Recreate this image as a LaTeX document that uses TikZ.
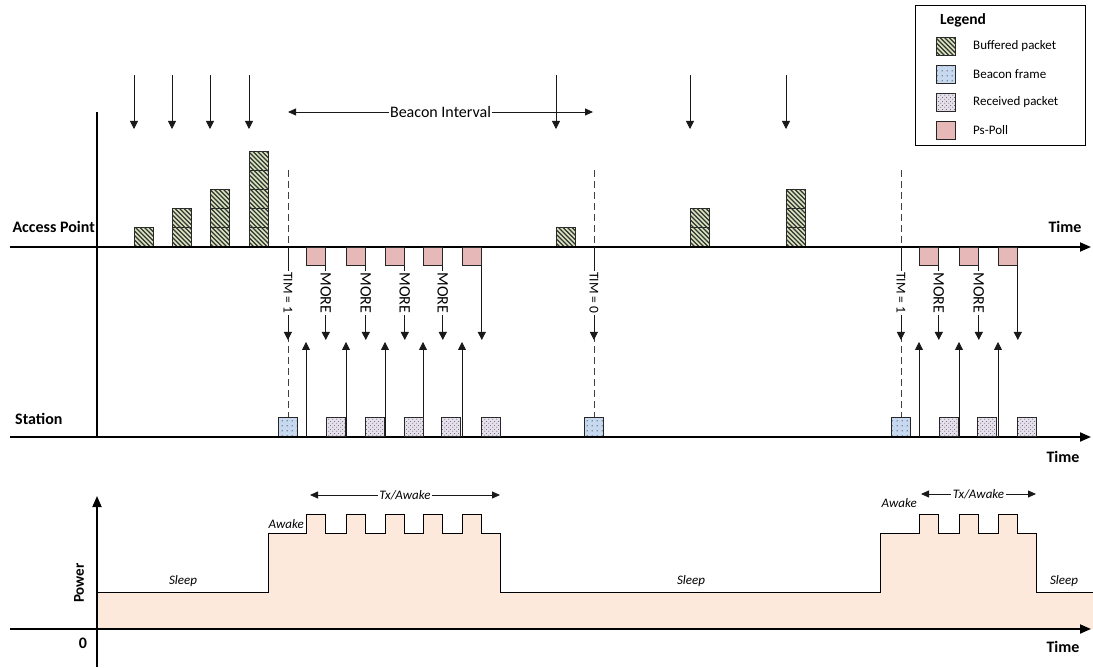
\documentclass[tikz,border=0pt]{standalone}
\usepackage{fontspec}
\setmainfont{Carlito}
\usetikzlibrary{patterns,arrows.meta}
\pgfdeclarepatternformonly{hatchnw}{\pgfqpoint{-1pt}{-1pt}}{\pgfqpoint{5.5pt}{5.5pt}}{\pgfqpoint{4.5pt}{4.5pt}}{\pgfsetlinewidth{1.1pt}\pgfpathmoveto{\pgfqpoint{-0.1pt}{4.6pt}}\pgfpathlineto{\pgfqpoint{4.6pt}{-0.1pt}}\pgfusepath{stroke}}
\pgfdeclarepatternformonly{sparsedots}{\pgfqpoint{0pt}{0pt}}{\pgfqpoint{5pt}{5pt}}{\pgfqpoint{5pt}{5pt}}{\pgfpathcircle{\pgfqpoint{2.5pt}{2.5pt}}{0.7pt}\pgfusepath{fill}}
\pgfdeclarepatternformonly{densedots}{\pgfqpoint{0pt}{0pt}}{\pgfqpoint{4pt}{4pt}}{\pgfqpoint{4pt}{4pt}}{\pgfpathcircle{\pgfqpoint{1pt}{1pt}}{0.55pt}\pgfpathcircle{\pgfqpoint{3pt}{3pt}}{0.55pt}\pgfusepath{fill}}
\definecolor{bufgreen}{HTML}{D7E4BD}
\definecolor{beaconblue}{HTML}{C6D9F1}
\definecolor{recvpurple}{HTML}{E5E0EC}
\definecolor{pspink}{HTML}{E6B9B8}
\definecolor{powerfill}{HTML}{FCE9DB}
\begin{document}
\begin{tikzpicture}[x=1pt,y=-1pt,
  axisline/.style={line width=1.8pt,-{Triangle[length=11pt,width=9pt]}},
  plainaxis/.style={line width=1.8pt},
  sig/.style={line width=0.8pt,draw=black!90,-{Triangle[length=8pt,width=8pt]}},
  dsig/.style={line width=0.8pt,draw=black!90,{Triangle[length=8pt,width=7pt]}-{Triangle[length=8pt,width=7pt]}},
  dashline/.style={line width=0.8pt,draw=black!75,dash pattern=on 7pt off 4pt},
  pkt/.style={draw=black!85,line width=0.8pt,minimum width=19pt,minimum height=19pt,inner sep=0pt,anchor=south west},
  buf/.style={pkt,fill=bufgreen,postaction={pattern=hatchnw,pattern color=black!80}},
  bcn/.style={pkt,fill=beaconblue,postaction={pattern=sparsedots,pattern color=black!75}},
  rcv/.style={pkt,fill=recvpurple,postaction={pattern=densedots,pattern color=black!75}},
  ps/.style={pkt,fill=pspink,minimum height=18pt,anchor=north west},
  swatch/.style={minimum height=18pt,anchor=north west},
  bigbold/.style={font=\fontsize{16}{19}\selectfont\bfseries,inner sep=0pt},
  onlinelbl/.style={font=\fontsize{16}{19}\selectfont,fill=white,inner sep=1.5pt,rotate=-90},
  timlbl/.style={font=\fontsize{13.5}{16}\selectfont,fill=white,inner sep=1.5pt,rotate=-90},
  itlbl/.style={font=\fontsize{13}{15}\selectfont\itshape,inner sep=0pt},
  legtxt/.style={font=\fontsize{13}{15}\selectfont,inner sep=0pt,anchor=west}]
\useasboundingbox (0,0) rectangle (1093,668);

% ---------- power plot fill ----------
\fill[powerfill] (97,629) -- (97,592) -- (268,592) -- (268,533) -- (306,533) -- (306,514) -- (325,514) -- (325,533) -- (346,533) -- (346,514) -- (365,514) -- (365,533) -- (385,533) -- (385,514) -- (404,514) -- (404,533) -- (423,533) -- (423,514) -- (442,514) -- (442,533) -- (462,533) -- (462,514) -- (481,514) -- (481,533) -- (500,533) -- (500,592) -- (880,592) -- (880,533) -- (919,533) -- (919,514) -- (938,514) -- (938,533) -- (959,533) -- (959,514) -- (978,514) -- (978,533) -- (998,533) -- (998,514) -- (1017,514) -- (1017,533) -- (1036,533) -- (1036,592) -- (1093,592) -- (1093,629) -- cycle;
\draw[line width=1pt] (97,592) -- (268,592) -- (268,533) -- (306,533) -- (306,514) -- (325,514) -- (325,533) -- (346,533) -- (346,514) -- (365,514) -- (365,533) -- (385,533) -- (385,514) -- (404,514) -- (404,533) -- (423,533) -- (423,514) -- (442,514) -- (442,533) -- (462,533) -- (462,514) -- (481,514) -- (481,533) -- (500,533) -- (500,592) -- (880,592) -- (880,533) -- (919,533) -- (919,514) -- (938,514) -- (938,533) -- (959,533) -- (959,514) -- (978,514) -- (978,533) -- (998,533) -- (998,514) -- (1017,514) -- (1017,533) -- (1036,533) -- (1036,592) -- (1093,592);

% ---------- axes ----------
\coordinate (apL) at (10,247);  \coordinate (apR) at (1091,247);
\coordinate (stL) at (10,437);  \coordinate (stR) at (1091,437);
\coordinate (vT) at (97,112);   \coordinate (vB) at (97,437);
\coordinate (pL) at (10,629);   \coordinate (pR) at (1091,629);
\coordinate (pB) at (97,667);   \coordinate (pT) at (97,496);
\coordinate (tipD) at (0,340);  \coordinate (tipU) at (0,342);
\coordinate (lblY) at (0,293);  \coordinate (dashTop) at (0,170);

% ---------- dashed beacon lines and beacon frames ----------
\node[bcn] (bf1) at (278,437) {};
\node[bcn] (bf2) at (584,437) {};
\node[bcn] (bf3) at (891,437) {};
\foreach \b in {1,2,3}{
  \draw[dashline] (bf\b.north |- dashTop) -- (bf\b.north);
}

% ---------- buffered packets and arrivals ----------
\foreach \x/\n [count=\i] in {134/1,172/2,210/3,249/5,556/1,690/2,786/3}{
  \foreach \j in {1,...,\n}{
    \node[buf] (bp\i-\j) at (\x,{247-19*(\j-1)}) {};
  }
  \coordinate (in\i-s) at (\x,75);
  \coordinate (in\i-e) at (\x,129);
  \draw[sig] (in\i-s) -- (in\i-e);
}

% ---------- beacon interval ----------
\coordinate (biL) at (288,112); \coordinate (biR) at (593,112);
\draw[dsig] (biL) -- (biR) node[midway,fill=white,inner sep=1.5pt,font=\fontsize{16}{19}\selectfont] (bi) {Beacon Interval};

% ---------- axes drawn ----------
\draw[axisline] (apL) -- (apR);
\draw[axisline] (stL) -- (stR);
\draw[plainaxis] (vT) -- (vB);

% ---------- TIM arrows ----------
\draw[sig] (bf1.north |- apL) -- (bf1.north |- tipD);
\node[timlbl] (tim1) at (bf1.north |- lblY) {TIM = 1};
\draw[sig] (bf2.north |- apL) -- (bf2.north |- tipD);
\node[timlbl] (tim2) at (bf2.north |- lblY) {TIM = 0};
\draw[sig] (bf3.north |- apL) -- (bf3.north |- tipD);
\node[timlbl] (tim3) at (bf3.north |- lblY) {TIM = 1};

% ---------- first exchange ----------
\foreach \x [count=\i] in {306,346,385,423,462}{
  \node[ps] (pp\i) at (\x,247) {};
  \draw[sig] (pp\i.south east) -- (pp\i.south east |- tipD);
  \draw[sig] (pp\i.south west |- stL) -- (pp\i.south west |- tipU);
}
\foreach \i in {1,2,3,4}{
  \node[onlinelbl] (more\i) at (pp\i.south east |- lblY) {MORE};
}
\foreach \x [count=\i] in {326,365,404,441,481}{
  \node[rcv] (rp\i) at (\x,437) {};
}

% ---------- second exchange ----------
\foreach \x [count=\i] in {919,959,998}{
  \node[ps] (qq\i) at (\x,247) {};
  \draw[sig] (qq\i.south east) -- (qq\i.south east |- tipD);
  \draw[sig] (qq\i.south west |- stL) -- (qq\i.south west |- tipU);
}
\foreach \i in {1,2}{
  \node[onlinelbl] (moreb\i) at (qq\i.south east |- lblY) {MORE};
}
\foreach \x [count=\i] in {939,977,1017}{
  \node[rcv] (rq\i) at (\x,437) {};
}

% ---------- axis labels ----------
\node[bigbold,anchor=east] (aplbl) at (95,227) {Access Point};
\node[bigbold,anchor=west] (stlbl) at (15,419) {Station};
\node[bigbold] (time1) at (1065,227) {Time};
\node[bigbold] (time2) at (1063,457) {Time};
\node[bigbold] (time3) at (1063,647) {Time};

% ---------- power axes ----------
\draw[axisline] (pL) -- (pR);
\draw[axisline] (pB) -- (pT);
\node[bigbold,rotate=90,font=\fontsize{15}{18}\selectfont\bfseries] (powlbl) at (79,583) {Power};
\node[bigbold] (zero) at (83,643) {0};

\node[itlbl] (sl1) at (183,581) {Sleep};
\node[itlbl] (sl2) at (691,581) {Sleep};
\node[itlbl] (sl3) at (1064,581) {Sleep};
\node[itlbl,anchor=east] (aw1) at (304,524) {Awake};
\node[itlbl,anchor=east] (aw2) at (917,503) {Awake};

\coordinate (tx1L) at (310,495); \coordinate (tx1R) at (500,495);
\draw[dsig] (tx1L) -- (tx1R) node[midway,fill=white,inner sep=1.5pt,font=\fontsize{13}{15}\selectfont\itshape] (tx1) {Tx/Awake};
\coordinate (tx2L) at (921,494); \coordinate (tx2R) at (1036,494);
\draw[dsig] (tx2L) -- (tx2R) node[midway,fill=white,inner sep=1.5pt,font=\fontsize{13}{15}\selectfont\itshape] (tx2) {Tx/Awake};

% ---------- legend ----------
\node[draw,line width=0.8pt,minimum width=170pt,minimum height=140pt,inner sep=0pt,anchor=north west] (legbox) at (915,5) {};
\node[font=\fontsize{15.5}{18}\selectfont\bfseries,inner sep=0pt] (legtitle) at (963,20) {Legend};
\node[buf,swatch] (lg1) at (936,37) {};
\node[bcn,swatch] (lg2) at (936,65) {};
\node[rcv,swatch] (lg3) at (936,93) {};
\node[ps,swatch] (lg4) at (936,121) {};
\node[legtxt] (lt1) at (973,46) {Buffered packet};
\node[legtxt] (lt2) at (973,74) {Beacon frame};
\node[legtxt] (lt3) at (973,102) {Received packet};
\node[legtxt] (lt4) at (973,130) {Ps-Poll};
\end{tikzpicture}
\end{document}
